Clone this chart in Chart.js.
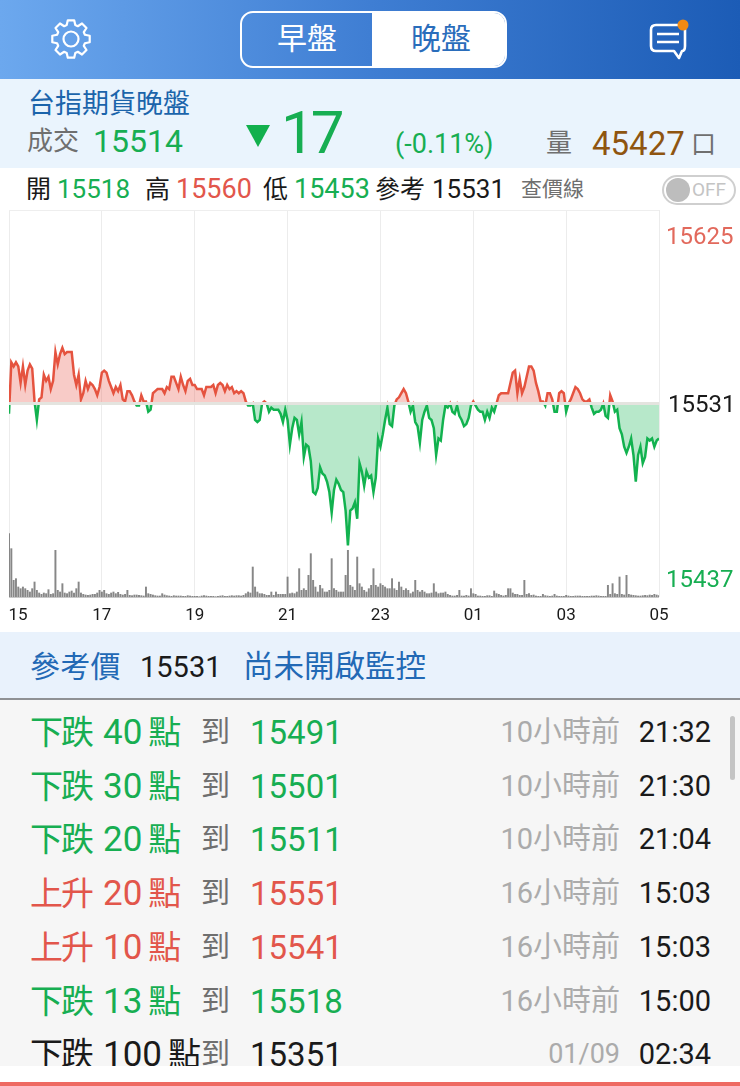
<!DOCTYPE html>
<html lang="zh-Hant">
<head>
<meta charset="utf-8">
<title>台指期貨晚盤</title>
<script src="https://cdn.jsdelivr.net/npm/chart.js@4"></script>
<style>
  html, body { margin: 0; padding: 0; background: #fff; }
  body { width: 740px; height: 1086px; position: relative; overflow: hidden;
    font-family: Roboto, "Noto Sans CJK TC", sans-serif; }
  .box { position: absolute; }
  .t { position: absolute; white-space: nowrap; line-height: 1; transform: translateY(-50%); }
  .green { color: #17ae52; }
  .red { color: #e2564b; }
  .black { color: #1a1a1a; }
  .grey { color: #6f6f6f; }
  .blue { color: #2269b5; }
  .ago { color: #ababab; }
  .name { letter-spacing: -2px; }
  .pts { font-size: 35px; letter-spacing: 0; margin: 0 6px 0 11px; }
  #header { left: 0; top: 0; width: 740px; height: 79px;
    background: linear-gradient(90deg, #6ca8ee 0%, #3f7ed3 50%, #1c5cb6 100%); }
  #seg { left: 240px; top: 11px; width: 263px; height: 53px; border: 2px solid #fff; border-radius: 13px; overflow: hidden; }
  #segOn { position: absolute; left: 130px; top: 0; width: 140px; height: 53px; background: #fff; }
  #info { left: 0; top: 79px; width: 740px; height: 89px; background: #eaf4fd; }
  #tri { left: 246px; top: 125px; width: 24px; height: 22px; background: #12b04d; clip-path: polygon(0 0, 100% 0, 50% 100%); }
  #toggle { left: 662px; top: 175px; width: 70px; height: 26px; border: 2px solid #cfcfcf; border-radius: 15px; }
  #knob { left: 666px; top: 178px; width: 24px; height: 24px; border-radius: 50%; background: #bdbdbd; }
  #chartWrap { left: 0; top: 200px; width: 740px; height: 432px; }
  #alertHead { left: 0; top: 632px; width: 740px; height: 66px; background: #e9f2fc; border-bottom: 2px solid #8f9194; }
  #list { left: 0; top: 700px; width: 740px; height: 366px; background: #f6f6f6; overflow: hidden; }
  #scroll { left: 730px; top: 716px; width: 5px; height: 64px; border-radius: 3px; background: #c4c4c4; }
  #bottomBar { left: 0; top: 1082px; width: 740px; height: 4px; background: #ee6a62; }
</style>
</head>
<body>
<div class="box" id="header">
  <svg class="box" style="left:48px;top:16px" width="46" height="46" viewBox="-23 -23 46 46">
    <path id="gear" fill="none" stroke="#fff" stroke-width="2.2" stroke-linejoin="round"></path>
    <circle r="7.5" fill="none" stroke="#fff" stroke-width="2.2"></circle>
  </svg>
  <div class="box" id="seg"><div id="segOn"></div></div>
  <div class="t" style="left:277px;top:39px;font-size:30px;color:#fff">早盤</div>
  <div class="t" style="left:411px;top:39px;font-size:30px;color:#2a6dbb">晚盤</div>
  <svg class="box" style="left:644px;top:14px" width="50" height="50" viewBox="0 0 50 50">
    <path d="M12 11 H36 Q41 11 41 16 V32 Q41 37 38 37 L35 44 L30 37 H12 Q7 37 7 32 V16 Q7 11 12 11 Z" fill="none" stroke="#fff" stroke-width="2.6" stroke-linejoin="round"></path>
    <path d="M13 20 H35 M13 28 H35" stroke="#fff" stroke-width="2.6"></path>
    <circle cx="39" cy="11" r="5.5" fill="#f08a14"></circle>
  </svg>
</div>
<div class="box" id="info"></div>
<div class="t" style="left:28px;top:104px;font-size:27px;color:#1b64ab">台指期貨晚盤</div>
<div class="t grey" style="left:27px;top:141px;font-size:26px">成交</div>
<div class="t green" style="left:93px;top:141px;font-size:32px" id="lastPrice"></div>
<div class="box" id="tri"></div>
<div class="t green" style="left:281px;top:133px;font-size:60px;letter-spacing:-4px" id="changePts"></div>
<div class="t green" style="left:395px;top:144px;font-size:27px" id="changePct"></div>
<div class="t grey" style="left:546px;top:143px;font-size:26px">量</div>
<div class="t" style="left:592px;top:143px;font-size:33px;color:#8f5510" id="totalVol"></div>
<div class="t grey" style="left:691px;top:144px;font-size:25px">口</div>

<div class="t black" style="left:26px;top:189px;font-size:25px">開</div>
<div class="t green" style="left:57px;top:189px;font-size:26px" id="openPx"></div>
<div class="t black" style="left:145px;top:189px;font-size:25px">高</div>
<div class="t red" style="left:176px;top:189px;font-size:27px" id="highPx"></div>
<div class="t black" style="left:263px;top:189px;font-size:25px">低</div>
<div class="t green" style="left:294px;top:189px;font-size:27px" id="lowPx"></div>
<div class="t black" style="left:375px;top:189px;font-size:25px">參考</div>
<div class="t black" style="left:432px;top:189px;font-size:26px" id="refPx"></div>
<div class="t grey" style="left:521px;top:189px;font-size:21px">查價線</div>
<div class="box" id="toggle"></div>
<div class="box" id="knob"></div>
<div class="t" style="left:692px;top:189px;font-size:19px;color:#c4c4c4">OFF</div>

<div class="box" id="chartWrap"><canvas id="futuresChart" width="740" height="432"></canvas></div>

<div class="box" id="alertHead"></div>
<div class="t blue" style="left:30px;top:667px;font-size:30px;letter-spacing:0.3px">參考價</div>
<div class="t black" style="left:140px;top:667px;font-size:29px" id="refPx2"></div>
<div class="t blue" style="left:243px;top:667px;font-size:30.5px">尚未開啟監控</div>
<div class="box" id="list"></div>
<div class="box" id="scroll"></div>
<div class="box" id="bottomBar"></div>

<script>
const refPrice = 15531;
const priceTicks = [15625, 15531, 15437];
const priceTickColors = ['#e2695c', '#1a1a1a', '#17ae52'];
const hourLabels = ['15', '17', '19', '21', '23', '01', '03', '05'];
const hourMinutes = [0, 120, 240, 360, 480, 600, 720, 840];

// last price, every ~3 minutes from 15:00 to 05:00
const prices = [
  15526, 15551, 15549, 15551, 15549, 15541, 15549, 15540, 15547, 15550,
  15548, 15532, 15523, 15533, 15534, 15545, 15542, 15544, 15538, 15542,
  15556, 15550, 15555, 15558, 15555, 15556, 15556, 15556, 15545, 15540,
  15545, 15533, 15536, 15542, 15538, 15541, 15540, 15538, 15535, 15539,
  15546, 15547, 15546, 15542, 15539, 15536, 15539, 15537, 15540, 15533,
  15532, 15537, 15537, 15535, 15532, 15530, 15530, 15535, 15532, 15532,
  15527, 15528, 15536, 15537, 15538, 15538, 15538, 15536, 15539, 15538,
  15544, 15544, 15541, 15538, 15544, 15540, 15537, 15542, 15543, 15540,
  15540, 15538, 15538, 15538, 15535, 15539, 15539, 15539, 15540, 15536,
  15540, 15541, 15540, 15537, 15540, 15538, 15539, 15536, 15537, 15536,
  15537, 15536, 15532, 15530, 15530, 15531, 15523, 15522, 15523, 15531,
  15532, 15531, 15527, 15529, 15528, 15528, 15528, 15526, 15522, 15528,
  15523, 15511, 15519, 15524, 15523, 15516, 15522, 15505, 15511, 15510,
  15503, 15488, 15487, 15490, 15500, 15497, 15496, 15493, 15488, 15478,
  15489, 15494, 15492, 15489, 15488, 15479, 15462, 15479, 15480, 15483,
  15475, 15502, 15498, 15491, 15498, 15495, 15496, 15488, 15495, 15514,
  15510, 15516, 15523, 15529, 15521, 15520, 15530, 15533, 15534, 15536,
  15538, 15536, 15532, 15527, 15530, 15522, 15520, 15512, 15523, 15527,
  15530, 15524, 15523, 15519, 15506, 15514, 15513, 15523, 15530, 15529,
  15531, 15527, 15526, 15530, 15525, 15523, 15520, 15521, 15524, 15530,
  15532, 15530, 15528, 15527, 15527, 15523, 15527, 15524, 15529, 15527,
  15531, 15535, 15536, 15536, 15536, 15536, 15541, 15546, 15547, 15536,
  15543, 15536, 15539, 15544, 15549, 15549, 15547, 15541, 15537, 15532,
  15532, 15530, 15536, 15536, 15533, 15527, 15527, 15536, 15537, 15536,
  15527, 15531, 15533, 15536, 15539, 15538, 15536, 15533, 15532, 15532,
  15533, 15529, 15526, 15527, 15527, 15528, 15531, 15525, 15524, 15535,
  15532, 15527, 15528, 15519, 15516, 15510, 15507, 15510, 15514, 15506,
  15493, 15506, 15510, 15502, 15505, 15514, 15513, 15514, 15510, 15513,
  15514
];

// traded lots, same sampling
const volumes = [
  1900, 1450, 500, 550, 300, 250, 300, 250, 200, 150,
  250, 450, 200, 120, 80, 120, 100, 220, 80, 100,
  1400, 200, 150, 400, 120, 100, 150, 180, 120, 250,
  450, 120, 80, 60, 50, 60, 80, 80, 120, 200,
  150, 200, 100, 80, 120, 150, 100, 140, 80, 60,
  80, 200, 50, 40, 60, 60, 50, 40, 30, 300,
  100, 80, 60, 40, 30, 30, 100, 60, 40, 30,
  20, 40, 30, 30, 30, 20, 20, 40, 30, 20,
  20, 20, 10, 30, 40, 30, 20, 20, 20, 10,
  20, 30, 40, 20, 20, 30, 40, 30, 40, 40,
  30, 50, 100, 150, 120, 900, 300, 150, 100, 100,
  80, 50, 50, 150, 50, 150, 80, 80, 80, 80,
  600, 100, 120, 100, 150, 850, 200, 250, 200, 650,
  1300, 500, 300, 150, 350, 250, 150, 150, 200, 1150,
  250, 200, 150, 150, 150, 650, 1400, 350, 300, 200,
  1200, 400, 300, 200, 150, 250, 350, 850, 350, 300,
  400, 350, 300, 250, 250, 550, 250, 200, 450, 300,
  200, 250, 200, 100, 150, 500, 200, 150, 200, 150,
  100, 100, 120, 400, 150, 100, 120, 120, 150, 80,
  50, 30, 30, 50, 200, 30, 30, 50, 30, 250,
  100, 80, 30, 30, 20, 20, 40, 40, 20, 180,
  100, 80, 50, 30, 50, 250, 250, 120, 80, 80,
  50, 50, 500, 80, 100, 50, 60, 30, 20, 20,
  80, 40, 30, 20, 30, 80, 30, 20, 20, 20,
  50, 30, 20, 20, 30, 30, 30, 20, 20, 20,
  20, 30, 30, 40, 30, 20, 20, 20, 350, 80,
  400, 100, 80, 600, 80, 60, 650, 80, 60, 50,
  40, 30, 30, 40, 50, 40, 60, 50, 80, 60,
  40
];

const lastPrice = 15514, changePts = 17, changePct = '(-0.11%)', totalVol = 45427;
const openPx = 15518, highPx = 15560, lowPx = 15453;

const alertActions = ['下跌', '下跌', '下跌', '上升', '上升', '下跌', '下跌'];
const alertPoints = [40, 30, 20, 20, 10, 13, 100];
const alertPrices = [15491, 15501, 15511, 15551, 15541, 15518, 15351];
const alertAgo = ['10小時前', '10小時前', '10小時前', '16小時前', '16小時前', '16小時前', '01/09'];
const alertTimes = ['21:32', '21:30', '21:04', '15:03', '15:03', '15:00', '02:34'];
const alertClasses = ['green', 'green', 'green', 'red', 'red', 'green', 'black'];

document.getElementById('lastPrice').textContent = lastPrice;
document.getElementById('changePts').textContent = changePts;
document.getElementById('changePct').textContent = changePct;
document.getElementById('totalVol').textContent = totalVol;
document.getElementById('openPx').textContent = openPx;
document.getElementById('highPx').textContent = highPx;
document.getElementById('lowPx').textContent = lowPx;
document.getElementById('refPx').textContent = refPrice;
document.getElementById('refPx2').textContent = refPrice;

// gear outline for the settings icon
let gearPath = '';
for (let i = 0; i < 8; i++) {
  const a = i * Math.PI / 4;
  [[-0.3, 14.5], [-0.17, 19], [0.17, 19], [0.3, 14.5]].forEach(function(p, j) {
    const x = Math.sin(a + p[0]) * p[1];
    const y = -Math.cos(a + p[0]) * p[1];
    gearPath += ((i === 0 && j === 0) ? 'M' : 'L') + x.toFixed(1) + ' ' + y.toFixed(1) + ' ';
  });
}
document.getElementById('gear').setAttribute('d', gearPath + 'Z');

// alert rows
const list = document.getElementById('list');
alertActions.forEach(function(action, i) {
  const y = 32 + i * 53.7;
  const name = document.createElement('div');
  name.className = 't name ' + alertClasses[i];
  name.style.cssText = 'left:30px;top:' + y + 'px;font-size:33px';
  name.innerHTML = action + '<span class="pts">' + alertPoints[i] + '</span>點';
  list.appendChild(name);
  const row = [
    ['到', 'left:201px', 'grey', 29],
    [alertPrices[i], 'left:250px', alertClasses[i], 33],
    [alertAgo[i], 'right:120px', 'ago', i === 6 ? 27 : 29],
    [alertTimes[i], 'right:29px', 'black', 29]
  ];
  row.forEach(function(c) {
    const el = document.createElement('div');
    el.className = 't ' + c[2];
    el.style.cssText = c[1] + ';top:' + y + 'px;font-size:' + c[3] + 'px';
    el.textContent = c[0];
    list.appendChild(el);
  });
});

const red = '#e5533f';
const green = '#12b24f';

function lineColor(ctx) {
  const chart = ctx.chart;
  if (!chart.chartArea) return red;
  const y = chart.scales.y.getPixelForValue(refPrice);
  const g = chart.ctx.createLinearGradient(0, chart.chartArea.top, 0, chart.chartArea.bottom);
  const stop = (y - chart.chartArea.top) / chart.chartArea.height;
  g.addColorStop(stop, red);
  g.addColorStop(stop, green);
  return g;
}

// axis text sits inside the plot's top and bottom, so it is placed here
const axisText = {
  id: 'axisText',
  afterDraw(chart) {
    const c = chart.ctx;
    c.save();
    c.textBaseline = 'middle';
    c.textAlign = 'left';
    c.font = '24px Roboto';
    priceTicks.forEach(function(v, i) {
      const shift = i === 0 ? 28 : (i === 2 ? -16 : 2);
      c.fillStyle = priceTickColors[i];
      c.fillText(v, v === refPrice ? 668 : 666, chart.scales.y.getPixelForValue(v) + shift);
    });
    c.textAlign = 'center';
    c.font = '17px Roboto';
    c.fillStyle = '#1a1a1a';
    hourLabels.forEach(function(label, i) {
      const x = chart.scales.x.getPixelForValue(hourMinutes[i]);
      c.fillText(label, i === 0 ? x + 9 : x, chart.chartArea.bottom + 19);
    });
    c.restore();
  }
};

new Chart(document.getElementById('futuresChart'), {
  data: {
    datasets: [{
      type: 'bar',
      yAxisID: 'yVol',
      data: volumes.map(function(v, i) { return { x: i * 840 / (volumes.length - 1), y: v }; }),
      backgroundColor: 'rgba(105,105,105,0.8)',
      barThickness: 1.3
    }, {
      type: 'line',
      yAxisID: 'y',
      data: prices.map(function(v, i) { return { x: i * 840 / (prices.length - 1), y: v }; }),
      borderColor: lineColor,
      borderWidth: 2.5,
      pointRadius: 0,
      tension: 0,
      fill: { target: { value: refPrice }, above: 'rgba(232,83,70,0.3)', below: 'rgba(18,178,79,0.3)' }
    }]
  },
  options: {
    responsive: false,
    animation: false,
    layout: { padding: { left: 9, right: 81, top: 10, bottom: 35 } },
    plugins: { legend: { display: false }, tooltip: { enabled: false } },
    scales: {
      x: {
        type: 'linear',
        offset: false,
        min: 0,
        max: 840,
        afterBuildTicks: function(axis) { axis.ticks = hourMinutes.map(function(v) { return { value: v }; }); },
        ticks: { display: false },
        border: { display: false },
        grid: { color: '#ececec', lineWidth: 1, drawTicks: false, offset: false }
      },
      y: {
        min: 15437,
        max: 15625,
        z: 1,
        afterBuildTicks: function(axis) { axis.ticks = priceTicks.map(function(v) { return { value: v }; }); },
        ticks: { display: false },
        border: { display: false },
        grid: {
          z: 1,
          drawTicks: false,
          color: function(ctx) {
            if (ctx.tick.value === refPrice) return '#e4e4df';
            return ctx.tick.value === 15625 ? '#eeeeee' : '#c8c8c8';
          },
          lineWidth: function(ctx) { return ctx.tick.value === refPrice ? 3 : 1; }
        }
      },
      yVol: {
        display: false,
        min: 0,
        max: 11610
      }
    }
  },
  plugins: [axisText]
});
</script>
</body>
</html>
